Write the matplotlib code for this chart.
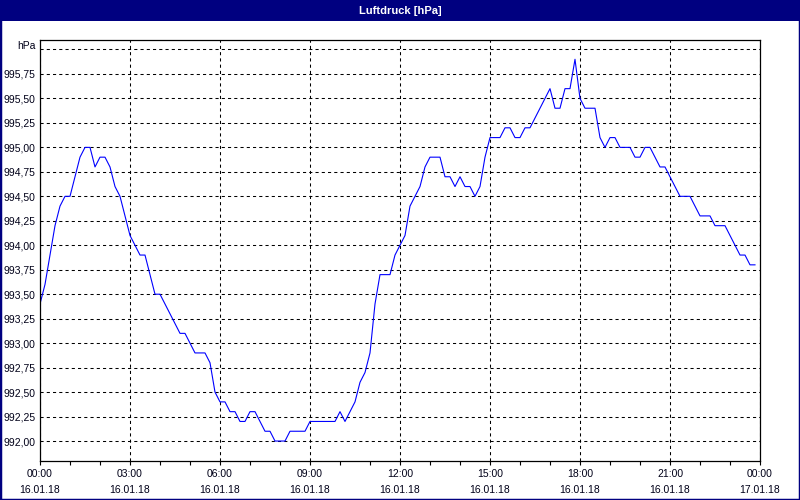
import pandas as pd
import matplotlib
matplotlib.use("Agg")
import matplotlib.pyplot as plt
import matplotlib.dates as mdates
from matplotlib.patches import Rectangle
from matplotlib.ticker import FixedLocator, FuncFormatter

# air pressure readings, one every 10 minutes from 16.01.18 00:00
pressure = [
    993.4, 993.6, 993.9, 994.2, 994.4, 994.5, 994.5, 994.7, 994.9, 995.0,
    995.0, 994.8, 994.9, 994.9, 994.8, 994.6, 994.5, 994.3, 994.1, 994.0,
    993.9, 993.9, 993.7, 993.5, 993.5, 993.4, 993.3, 993.2, 993.1, 993.1,
    993.0, 992.9, 992.9, 992.9, 992.8, 992.5, 992.4, 992.4, 992.3, 992.3,
    992.2, 992.2, 992.3, 992.3, 992.2, 992.1, 992.1, 992.0, 992.0, 992.0,
    992.1, 992.1, 992.1, 992.1, 992.2, 992.2, 992.2, 992.2, 992.2, 992.2,
    992.3, 992.2, 992.3, 992.4, 992.6, 992.7, 992.9, 993.4, 993.7, 993.7,
    993.7, 993.9, 994.0, 994.1, 994.4, 994.5, 994.6, 994.8, 994.9, 994.9,
    994.9, 994.7, 994.7, 994.6, 994.7, 994.6, 994.6, 994.5, 994.6, 994.9,
    995.1, 995.1, 995.1, 995.2, 995.2, 995.1, 995.1, 995.2, 995.2, 995.3,
    995.4, 995.5, 995.6, 995.4, 995.4, 995.6, 995.6, 995.9, 995.5, 995.4,
    995.4, 995.4, 995.1, 995.0, 995.1, 995.1, 995.0, 995.0, 995.0, 994.9,
    994.9, 995.0, 995.0, 994.9, 994.8, 994.8, 994.7, 994.6, 994.5, 994.5,
    994.5, 994.4, 994.3, 994.3, 994.3, 994.2, 994.2, 994.2, 994.1, 994.0,
    993.9, 993.9, 993.8, 993.8,
]
times = pd.date_range("2018-01-16 00:00", periods=len(pressure), freq="10min")

y_ticks = [992.0, 992.25, 992.5, 992.75, 993.0, 993.25, 993.5, 993.75,
           994.0, 994.25, 994.5, 994.75, 995.0, 995.25, 995.5, 995.75, 996.0]
title = "Luftdruck [hPa]"
unit = "hPa"

navy = "#000080"
font = ["Liberation Sans", "DejaVu Sans"]
plt.rcParams["font.family"] = font

fig = plt.figure(figsize=(8, 5), dpi=100, facecolor="white")
ax = fig.add_axes([0.05, 0.078, 0.90, 0.842])

ax.plot(times, pressure, color="#0000FF", lw=0.8)

ax.set_xlim(pd.Timestamp("2018-01-16 00:00"), pd.Timestamp("2018-01-17 00:00"))
ax.set_ylim(991.796, 996.097)

ax.xaxis.set_major_locator(mdates.HourLocator(byhour=range(0, 24, 3)))
ax.xaxis.set_minor_locator(mdates.HourLocator())
ax.xaxis.set_major_formatter(mdates.DateFormatter("%H:%M\n%d.%m.%y"))

ax.yaxis.set_major_locator(FixedLocator(y_ticks))
ax.yaxis.set_major_formatter(FuncFormatter(lambda v, p: unit if v >= 996 else f"{v:.2f}".replace(".", ",")))

ax.tick_params(axis="y", length=0, pad=3, labelsize=7.5, labelcolor="#000018")
ax.tick_params(axis="x", which="both", length=3, width=0.8, direction="out", pad=3,
               labelsize=7.5, labelcolor="#000018")
for lab in ax.get_xticklabels():
    lab.set_linespacing(1.65)
for lab in ax.get_yticklabels():
    if lab.get_text() == unit:
        lab.set_va("baseline")

ax.grid(True, which="major", color="black", linestyle=(0, (3, 3)), lw=0.75)
for s in ax.spines.values():
    s.set_linewidth(0.9)
    s.set_color("black")

# title bar and frame
fig.patches.append(Rectangle((0, 1 - 21 / 500), 1, 21 / 500, transform=fig.transFigure,
                             facecolor=navy, edgecolor="none", zorder=0))
fig.patches.append(Rectangle((0, 0), 1, 1, transform=fig.transFigure, fill=False,
                             edgecolor=navy, lw=2.5, zorder=1))
fig.text(0.5, 1 - 11 / 500, title, color="white", fontsize=8, fontweight="bold",
         ha="center", va="center")

fig.savefig("out.png", dpi=100, facecolor="white")
